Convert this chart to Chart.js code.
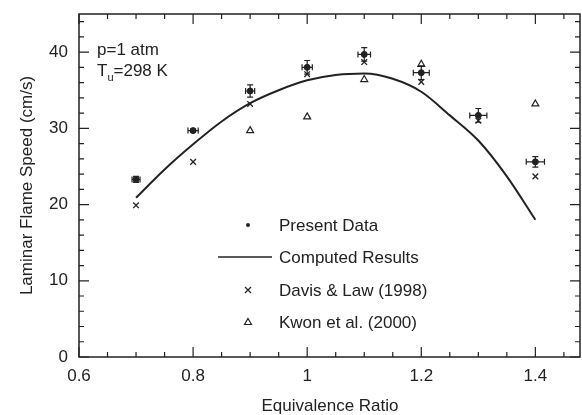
<!DOCTYPE html>
<html>
<head>
<meta charset="utf-8">
<script src="https://cdn.jsdelivr.net/npm/chart.js@4/dist/chart.umd.min.js"></script>
<style>
  html, body { margin: 0; padding: 0; background: #fff; }
  #wrap { width: 582px; height: 415px; }
</style>
</head>
<body>
<div id="wrap"><canvas id="myChart" width="582" height="415"></canvas></div>
<script>
// equivalence ratios
const phi = [0.7, 0.8, 0.9, 1.0, 1.1, 1.2, 1.3, 1.4];
// present data with error bars
const presentSpeed = [23.3, 29.7, 34.9, 38.0, 39.7, 37.3, 31.7, 25.6];
const presentXErr  = [0.007, 0.009, 0.008, 0.009, 0.011, 0.014, 0.015, 0.016];
const presentYErr  = [0.4, 0.2, 0.8, 0.9, 0.9, 0.9, 0.9, 0.7];
// Davis & Law (1998)
const davisSpeed = [19.9, 25.6, 33.2, 37.1, 38.7, 36.1, 31.0, 23.7];
// Kwon et al. (2000)
const kwonPhi   = [0.9, 1.0, 1.1, 1.2, 1.4];
const kwonSpeed = [29.7, 31.5, 36.4, 38.4, 33.2];
// computed curve
const compPhi   = [0.70, 0.75, 0.80, 0.85, 0.90, 0.95, 1.00, 1.05, 1.10, 1.15, 1.20, 1.25, 1.30, 1.35, 1.40];
const compSpeed = [20.9, 24.6, 27.9, 30.9, 33.3, 35.0, 36.3, 37.0, 37.2, 36.5, 34.8, 31.7, 28.4, 23.7, 18.0];

const ink = '#222';
const fontFam = '"Liberation Sans", Arial, Helvetica, sans-serif';

function pts(xs, ys) {
  return xs.map((x, i) => ({x: x, y: ys[i]}));
}

// error bars, inward ticks, frame, legend and conditions text
const extras = {
  id: 'extras',
  afterDatasetsDraw(chart) {
    const ctx = chart.ctx;
    const xs = chart.scales.x, ys = chart.scales.y;
    ctx.save();
    ctx.strokeStyle = ink;
    ctx.lineWidth = 1.2;
    // error bars
    phi.forEach((p, i) => {
      const cx = xs.getPixelForValue(p), cy = ys.getPixelForValue(presentSpeed[i]);
      const x0 = xs.getPixelForValue(p - presentXErr[i]), x1 = xs.getPixelForValue(p + presentXErr[i]);
      const y0 = ys.getPixelForValue(presentSpeed[i] - presentYErr[i]), y1 = ys.getPixelForValue(presentSpeed[i] + presentYErr[i]);
      ctx.beginPath();
      ctx.moveTo(x0, cy); ctx.lineTo(x1, cy);
      ctx.moveTo(x0, cy - 3); ctx.lineTo(x0, cy + 3);
      ctx.moveTo(x1, cy - 3); ctx.lineTo(x1, cy + 3);
      ctx.moveTo(cx, y0); ctx.lineTo(cx, y1);
      ctx.moveTo(cx - 3, y0); ctx.lineTo(cx + 3, y0);
      ctx.moveTo(cx - 3, y1); ctx.lineTo(cx + 3, y1);
      ctx.stroke();
    });
    ctx.restore();
  },
  afterDraw(chart) {
    const ctx = chart.ctx;
    const a = chart.chartArea;
    const xs = chart.scales.x, ys = chart.scales.y;
    ctx.save();
    ctx.strokeStyle = ink;
    ctx.lineWidth = 1.5;
    ctx.strokeRect(a.left, a.top, a.right - a.left - 1, a.bottom - a.top);
    ctx.lineWidth = 1.2;
    ctx.beginPath();
    // x ticks every 0.05, major at 0.2
    for (let k = 0; k <= 18; k++) {
      const v = 0.6 + k * 0.05;
      const px = xs.getPixelForValue(v);
      if (px > a.right - 2) break;
      const len = (k % 4 === 0) ? 10 : 5;
      ctx.moveTo(px, a.bottom); ctx.lineTo(px, a.bottom - len);
      ctx.moveTo(px, a.top); ctx.lineTo(px, a.top + len);
    }
    // y ticks every 2, major at 10
    for (let v = 0; v <= 44; v += 2) {
      const py = ys.getPixelForValue(v);
      const len = (v % 10 === 0) ? 10 : 5;
      ctx.moveTo(a.left, py); ctx.lineTo(a.left + len, py);
      ctx.moveTo(a.right - 1, py); ctx.lineTo(a.right - 1 - len, py);
    }
    ctx.stroke();

    // conditions text
    ctx.fillStyle = ink;
    ctx.font = '17px ' + fontFam;
    ctx.textBaseline = 'alphabetic';
    ctx.textAlign = 'left';
    ctx.fillText('p=1 atm', a.left + 18, a.top + 41);
    ctx.fillText('T', a.left + 18, a.top + 62);
    const tw = ctx.measureText('T').width;
    ctx.font = '11px ' + fontFam;
    ctx.fillText('u', a.left + 18 + tw, a.top + 67);
    const uw = ctx.measureText('u').width;
    ctx.font = '17px ' + fontFam;
    ctx.fillText('=298 K', a.left + 18 + tw + uw, a.top + 62);

    // legend
    const lx = a.left + 169, tx = a.left + 200;
    const rows = [a.top + 211, a.top + 243, a.top + 276, a.top + 308];
    ctx.textBaseline = 'middle';
    chart.data.datasets.forEach((ds, i) => {
      const y = rows[i];
      ctx.fillStyle = ink;
      ctx.fillText(ds.label, tx, y + 1);
      ctx.beginPath();
      if (ds.pointStyle === 'circle') {
        ctx.arc(lx, y, 2, 0, Math.PI * 2);
        ctx.fill();
      } else if (ds.pointStyle === 'crossRot') {
        ctx.moveTo(lx - 3, y - 3); ctx.lineTo(lx + 3, y + 3);
        ctx.moveTo(lx + 3, y - 3); ctx.lineTo(lx - 3, y + 3);
        ctx.stroke();
      } else if (ds.pointStyle === 'triangle') {
        ctx.moveTo(lx, y - 3.5); ctx.lineTo(lx + 3.5, y + 2.5); ctx.lineTo(lx - 3.5, y + 2.5);
        ctx.closePath();
        ctx.stroke();
      } else {
        ctx.lineWidth = 1.5;
        ctx.moveTo(lx - 30, y); ctx.lineTo(lx + 24, y);
        ctx.stroke();
        ctx.lineWidth = 1.2;
      }
    });
    ctx.restore();
  }
};

const ctx = document.getElementById('myChart').getContext('2d');
const myChart = new Chart(ctx, {
  type: 'scatter',
  data: {
    datasets: [{
      label: 'Present Data',
      data: pts(phi, presentSpeed),
      pointStyle: 'circle',
      pointRadius: 3,
      backgroundColor: ink,
      borderColor: ink,
      borderWidth: 1
    }, {
      label: 'Computed Results',
      type: 'line',
      data: pts(compPhi, compSpeed),
      showLine: true,
      pointRadius: 0,
      borderColor: ink,
      borderWidth: 2,
      cubicInterpolationMode: 'monotone',
      fill: false
    }, {
      label: 'Davis & Law (1998)',
      data: pts(phi, davisSpeed),
      pointStyle: 'crossRot',
      pointRadius: 4,
      borderColor: ink,
      borderWidth: 1.3
    }, {
      label: 'Kwon et al. (2000)',
      data: pts(kwonPhi, kwonSpeed),
      pointStyle: 'triangle',
      pointRadius: 4,
      backgroundColor: 'rgba(0,0,0,0)',
      borderColor: ink,
      borderWidth: 1.2
    }]
  },
  options: {
    responsive: false,
    animation: false,
    devicePixelRatio: 1,
    layout: { autoPadding: false, padding: { top: 14, right: 1, left: 0, bottom: 0 } },
    plugins: {
      legend: { display: false },
      tooltip: { enabled: false }
    },
    scales: {
      x: {
        type: 'linear',
        min: 0.6,
        max: 1.48,
        grid: { display: false, drawTicks: false },
        border: { display: false },
        afterFit(scale) {
          scale.height = 58;
          scale.paddingLeft = 0;
          scale.paddingRight = 0;
        },
        ticks: {
          stepSize: 0.2,
          includeBounds: false,
          padding: 9,
          color: ink,
          font: { family: fontFam, size: 17 },
          callback: v => String(Math.round(v * 10) / 10)
        },
        title: {
          display: true,
          text: 'Equivalence Ratio',
          color: ink,
          font: { family: fontFam, size: 17 },
          padding: { top: 0, bottom: -2 }
        }
      },
      y: {
        min: 0,
        max: 45,
        grid: { display: false, drawTicks: false },
        border: { display: false },
        afterFit(scale) {
          scale.width = 79;
          scale.paddingTop = 0;
          scale.paddingBottom = 0;
        },
        ticks: {
          stepSize: 10,
          includeBounds: false,
          padding: 11,
          color: ink,
          font: { family: fontFam, size: 17 }
        },
        title: {
          display: true,
          text: 'Laminar Flame Speed (cm/s)',
          color: ink,
          font: { family: fontFam, size: 17 },
          padding: { top: 17, bottom: 0 }
        }
      }
    }
  },
  plugins: [extras]
});
</script>
</body>
</html>
